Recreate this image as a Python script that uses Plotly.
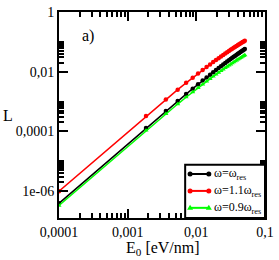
import plotly.graph_objects as go

# Field amplitude E0 [eV/nm]
E0 = [0.0001, 0.00185, 0.0036, 0.00535, 0.0071, 0.00885, 0.0106, 0.01235, 0.0141, 0.01585,
      0.0176, 0.01935, 0.0211, 0.02285, 0.0246, 0.02635, 0.0281, 0.02985, 0.0316, 0.03335,
      0.0351, 0.03685, 0.0386, 0.04035, 0.0421, 0.04385, 0.0456, 0.04735, 0.0491, 0.05085]

# omega = omega_res
L_res = [3.9e-7, 1.2994e-4, 4.8004e-4, 1.0348e-3, 1.7802e-3, 2.7028e-3, 3.7913e-3, 5.0343e-3,
         6.4224e-3, 7.9461e-3, 9.5975e-3, 0.011369, 0.013253, 0.015243, 0.017333, 0.019518,
         0.021793, 0.024152, 0.026591, 0.029107, 0.031695, 0.034351, 0.037073, 0.039856,
         0.042699, 0.045598, 0.048551, 0.051555, 0.054607, 0.057707]

# omega = 1.1 omega_res
L_11 = [1.0e-6, 3.260e-4, 1.181e-3, 2.501e-3, 4.230e-3, 6.321e-3, 8.736e-3, 0.011438,
        0.014399, 0.017593, 0.020998, 0.024593, 0.028363, 0.032291, 0.036363, 0.040569,
        0.044897, 0.049338, 0.053883, 0.058524, 0.063255, 0.068068, 0.072959, 0.077921,
        0.082951, 0.088043, 0.093195, 0.098401, 0.10366, 0.10897]

# omega = 0.9 omega_res
L_09 = [3.29e-7, 1.0758e-4, 3.897e-4, 8.253e-4, 1.3959e-3, 2.0859e-3, 2.8829e-3, 3.7745e-3,
        4.7517e-3, 5.8057e-3, 6.9293e-3, 8.1157e-3, 9.3598e-3, 0.010656, 0.012000, 0.013388,
        0.014816, 0.016282, 0.017781, 0.019313, 0.020874, 0.022462, 0.024076, 0.025714,
        0.027374, 0.029054, 0.030754, 0.032472, 0.034208, 0.035960]

series_names = ["ω=ω<sub>res</sub>", "ω=1.1ω<sub>res</sub>", "ω=0.9ω<sub>res</sub>"]
series_colors = ["black", "#ff0000", "#00ff00"]
series_symbols = ["circle", "circle", "triangle-up"]

x_tickvals = [1e-4, 1e-3, 1e-2, 1e-1]
x_ticktext = ["0,0001", "0,001", "0,01", "0,1"]
x_minor = [m * d for d in (1e-4, 1e-3, 1e-2) for m in range(2, 10)]

y_tickvals = [1e-6, 1e-4, 1e-2, 1]
y_ticktext = ["1e-06", "0,0001", "0,01", "1"]
y_minor = [m * d for d in (1e-6, 1e-4, 1e-2) for m in range(2, 11)]

FONT = "Liberation Serif"

# plot area in window pixels
PX0, PX1, PY0, PY1 = 59, 268, 5, 218


def px(X):
    return (X - PX0) / (PX1 - PX0)


def py(Y):
    return (PY1 - Y) / (PY1 - PY0)


fig = go.Figure()
for ys, name, col, sym in zip([L_res, L_11, L_09], series_names, series_colors, series_symbols):
    fig.add_trace(go.Scatter(
        x=E0, y=ys, mode="lines+markers", name=name,
        line=dict(color=col, width=1.5),
        marker=dict(color=col, symbol=sym, size=4.5, line=dict(width=0)),
    ))

axis_common = dict(
    type="log", showline=True, linewidth=2, linecolor="black", mirror="allticks",
    ticks="inside", ticklen=9, tickwidth=1.5, tickcolor="black",
    showgrid=False, zeroline=False, ticklabeloverflow="allow",
    tickfont=dict(family=FONT, size=14, color="black"),
)

# hand-drawn legend (box, sample lines with end markers, labels)
shapes = [dict(type="rect", xref="paper", yref="paper", x0=px(187), x1=px(268),
               y0=py(218), y1=py(163), line=dict(color="black", width=2),
               fillcolor="white", layer="above")]
annotations = []
row_y = [172.5, 190, 207.5]
for ry, name, col, sym in zip(row_y, series_names, series_colors, series_symbols):
    yy = py(ry)
    shapes.append(dict(type="line", xref="paper", yref="paper", x0=px(192), x1=px(211),
                       y0=yy, y1=yy, line=dict(color=col, width=2), layer="above"))
    for xe in (192, 211):
        if sym == "triangle-up":
            shapes.append(dict(type="path", xref="paper", yref="paper",
                               xsizemode="pixel", ysizemode="pixel",
                               xanchor=px(xe), yanchor=yy,
                               path="M-3,-2 L3,-2 L0,3 Z", fillcolor=col,
                               line=dict(color=col, width=0), layer="above"))
        else:
            shapes.append(dict(type="circle", xref="paper", yref="paper",
                               xsizemode="pixel", ysizemode="pixel",
                               xanchor=px(xe), yanchor=yy,
                               x0=-2.5, x1=2.5, y0=-2.5, y1=2.5, fillcolor=col,
                               line=dict(color=col, width=0), layer="above"))
    annotations.append(dict(text=name, xref="paper", yref="paper", x=px(214), y=yy,
                            xanchor="left", yanchor="middle", showarrow=False,
                            font=dict(family=FONT, size=12, color="black")))

annotations += [
    dict(text="a)", xref="paper", yref="paper", x=px(88.5), y=py(30), showarrow=False,
         font=dict(family=FONT, size=16, color="black"), xanchor="center", yanchor="middle"),
    dict(text="L", xref="paper", yref="paper", x=px(7.5), y=py(112), showarrow=False,
         font=dict(family=FONT, size=16, color="black"), xanchor="center", yanchor="middle"),
    dict(text="E<sub>0</sub> [eV/nm]", xref="paper", yref="paper", x=px(165), y=py(238),
         showarrow=False, font=dict(family=FONT, size=16, color="black"),
         xanchor="center", yanchor="top"),
]

fig.update_layout(
    width=279, height=260,
    margin=dict(l=PX0, r=279 - PX1, t=PY0, b=260 - PY1, pad=0),
    paper_bgcolor="white", plot_bgcolor="white",
    xaxis=dict(range=[-4, -1], tickmode="array", tickvals=x_tickvals, ticktext=x_ticktext,
               minor=dict(tickmode="array", tickvals=x_minor, ticks="inside", ticklen=5,
                          tickwidth=1.5, tickcolor="black", showgrid=False),
               **axis_common),
    yaxis=dict(range=[-6.9, 0], tickmode="array", tickvals=y_tickvals, ticktext=y_ticktext,
               minor=dict(tickmode="array", tickvals=y_minor, ticks="inside", ticklen=5,
                          tickwidth=1.5, tickcolor="black", showgrid=False),
               **axis_common),
    showlegend=False,
    shapes=shapes,
    annotations=annotations,
)

fig.write_html("out.html", config={"displayModeBar": False},
               post_script="document.body.style.margin='0px';")
